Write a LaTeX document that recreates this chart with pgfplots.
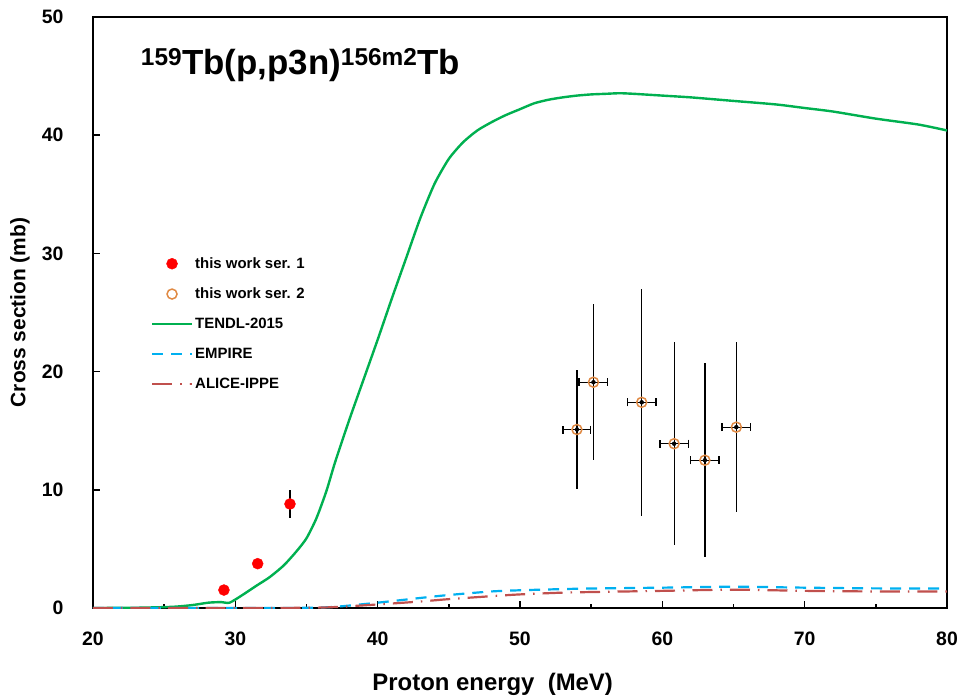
\documentclass[border=0pt]{standalone}
\usepackage{fontspec}
\setmainfont{Liberation Sans}
\usepackage{pgfplots}
\pgfplotsset{compat=1.18}
\definecolor{tgreen}{HTML}{00B050}
\definecolor{eblue}{HTML}{00B0F0}
\definecolor{ared}{HTML}{C0504D}
\definecolor{sorange}{HTML}{E08A44}
\begin{document}
\begin{tikzpicture}
\path[use as bounding box] (-93bp,-92bp) rectangle (868bp,608bp);
\begin{axis}[
  at={(0,0)}, anchor=south west,
  scale only axis, width=854bp, height=591bp,
  xmin=20, xmax=80, ymin=0, ymax=50,
  xtick={20,30,...,80}, ytick={0,10,...,50},
  minor xtick={25,35,...,75},
  tick pos=left, tick align=inside,
  major tick length=7bp, minor tick length=4bp,
  every tick/.style={black, line width=1.5bp},
  axis line style={line width=1.6bp},
  /pgf/number format/assume math mode=true,
  tick label style={font=\fontsize{19.5}{22}\selectfont\bfseries},
  xticklabel shift=20bp, yticklabel shift=26bp,
  xlabel={Proton energy~~(MeV)}, ylabel={Cross section (mb)},
  xlabel style={font=\fontsize{24}{27}\selectfont\bfseries, at={(axis description cs:0.468,-0.130)}, anchor=center},
  ylabel style={font=\fontsize{21}{24}\selectfont\bfseries, at={(axis description cs:-0.0855,0.5)}, anchor=center},
  legend style={draw=none, fill=none, font=\fontsize{15}{17}\selectfont\bfseries,
    at={(rel axis cs:0.064,0.600)}, anchor=north west, row sep=14bp,
    legend cell align=left},
  legend image code/.code={\draw[mark repeat=2,mark phase=2,#1] plot coordinates {(0bp,0bp) (20bp,0bp) (40bp,0bp)};},
]
% series 1
\addplot[only marks, mark=*, mark size=5.5bp, color=red, mark options={fill=red, draw=red},
  error bars/.cd, y dir=both, y explicit, error mark=none,
  error bar style={black, line width=1.3bp}]
  table[x=x, y=y, y error=ey] {
x y ey
29.2 1.52 0.2
31.57 3.75 0.4
33.84 8.8 1.2
};
\addlegendentry{this work ser. 1}
% series 2 vertical error bars
\addplot[forget plot, only marks, mark=none,
  error bars/.cd, y dir=both, y explicit, error mark=none,
  error bar style={black, line width=1.3bp}]
  table[x=x, y=y, y error=ey] {
x y ey
54.0 15.1 5.0
55.16 19.1 6.6
58.55 17.4 9.6
60.83 13.9 8.6
62.99 12.5 8.2
65.2 15.3 7.2
};
\addplot[only marks, mark=o, mark size=5bp, color=sorange, mark options={line width=1.5bp},
  error bars/.cd, x dir=both, x explicit, error mark=-,
  error bar style={black, line width=1.3bp},
  error mark options={black, line width=1.5bp, mark size=4bp, rotate=90}]
  table[x=x, y=y, x error=ex] {
x y ex
54.0 15.1 0.97
55.16 19.1 1.0
58.55 17.4 1.0
60.83 13.9 1.0
62.99 12.5 1.0
65.2 15.3 1.0
};
\addlegendentry{this work ser. 2}
% TENDL-2015
\addplot[tgreen, line width=2.4bp, smooth, tension=0.4] coordinates {
(20,0) (23,0.02) (25.6,0.1) (27,0.25) (28.1,0.45) (29,0.5) (29.6,0.45) (30.5,1.1) (31.5,1.9)
(32.4,2.6) (33.4,3.6) (34.3,4.8) (35,5.9) (35.7,7.6) (36.4,9.9) (37,12.3) (38,15.9) (39,19.3)
(40,22.7) (41,26.2) (42,29.6) (43,33.0) (44,35.9) (45,38.0) (46,39.4) (47,40.4) (48,41.1)
(49,41.7) (50,42.2) (51,42.7) (52,43.0) (53,43.2) (54,43.35) (55,43.45) (56,43.5) (57,43.55)
(58,43.5) (60,43.35) (62,43.2) (65,42.9) (68,42.6) (70,42.3) (72,42.0) (75,41.4) (78,40.9) (80,40.4)
};
\addlegendentry{TENDL-2015}
% EMPIRE
\addplot[eblue, line width=2.2bp, dash pattern=on 11bp off 8bp, smooth] coordinates {
(20,0) (30,0) (35,0.02) (37,0.1) (40,0.45) (43,0.85) (45,1.1) (48,1.4) (50,1.5) (53,1.6)
(55,1.65) (60,1.72) (65,1.8) (70,1.72) (75,1.66) (80,1.65)
};
\addlegendentry{EMPIRE}
% ALICE-IPPE
\addplot[ared, line width=2.2bp, dash pattern=on 20bp off 8bp on 1.5bp off 8bp, smooth] coordinates {
(20,0) (30,0) (35,0.02) (37,0.08) (40,0.3) (43,0.55) (45,0.75) (48,1.0) (50,1.15) (53,1.3)
(55,1.35) (60,1.45) (65,1.55) (70,1.45) (75,1.4) (80,1.4)
};
\addlegendentry{ALICE-IPPE}
\node[anchor=west, font=\fontsize{35}{38}\selectfont\bfseries] at (rel axis cs:0.052,0.918)
  {\textsuperscript{159}Tb(p,p3n)\textsuperscript{156m2}Tb};
\end{axis}
\end{tikzpicture}
\end{document}
